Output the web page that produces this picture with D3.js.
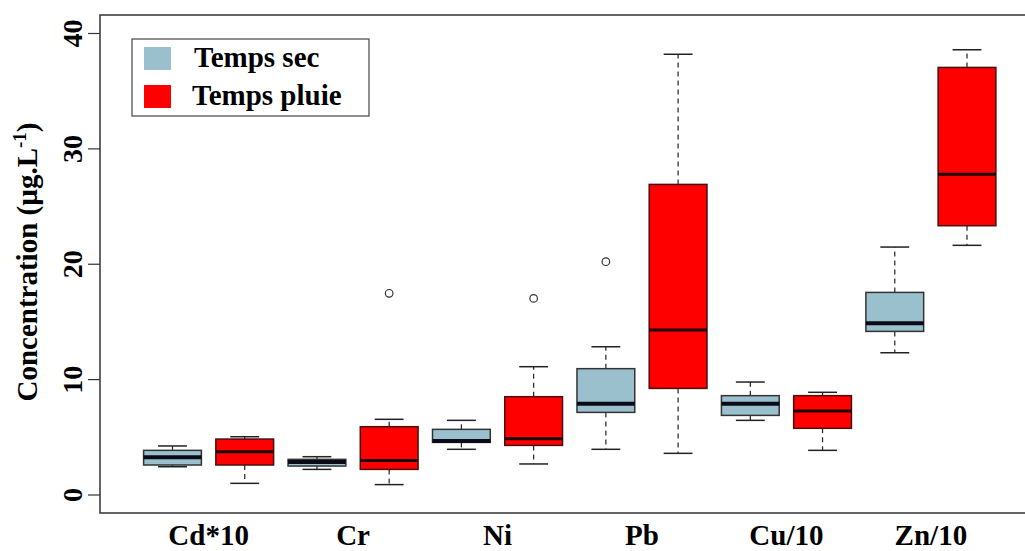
<!DOCTYPE html>
<html>
<head>
<meta charset="utf-8">
<script src="https://cdn.jsdelivr.net/npm/d3@7"></script>
<style>
  body { margin: 0; background: #fff; }
  svg { display: block; font-family: "Times New Roman", "Liberation Serif", serif; font-weight: bold; }
</style>
</head>
<body>
<svg id="chart" width="1025" height="551"></svg>
<script>
let metals = ["Cd*10", "Cr", "Ni", "Pb", "Cu/10", "Zn/10"]
let seriesNames = ["Temps sec", "Temps pluie"]
let seriesColors = ["#9AC0CD", "#FF0000"]

// [lower whisker, q1, median, q3, upper whisker]
let sec = [
	[2.45, 2.6, 3.27, 3.87, 4.25],
	[2.22, 2.51, 2.86, 3.09, 3.32],
	[3.96, 4.56, 4.68, 5.69, 6.47],
	[3.96, 7.16, 7.91, 10.95, 12.85],
	[6.47, 6.9, 7.91, 8.61, 9.79],
	[12.33, 14.18, 14.88, 17.56, 21.49]
]
let pluie = [
	[1.01, 2.6, 3.75, 4.85, 5.05],
	[0.9, 2.22, 3.0, 5.92, 6.56],
	[2.69, 4.3, 4.88, 8.52, 11.12],
	[3.61, 9.24, 14.3, 26.92, 38.2],
	[3.87, 5.78, 7.28, 8.61, 8.9],
	[21.64, 23.34, 27.79, 37.06, 38.59]
]
// outliers: [metal index, series index, value]
let outliers = [[1, 1, 17.48], [2, 1, 17.04], [3, 0, 20.22]]
let yTicks = [0, 10, 20, 30, 40]

let svg = d3.select('#chart')

let x = d3.scaleLinear().domain([1, 12]).range([172.5, 967])
let y = d3.scaleLinear().domain([0, 40]).range([495, 33.5])
let bw = (x(2) - x(1)) * 0.8

let boxes = []
metals.forEach((m, i) => {
	boxes.push({ pos: i * 2 + 1, s: 0, st: sec[i] })
	boxes.push({ pos: i * 2 + 2, s: 1, st: pluie[i] })
})

// frame (right side runs off the picture)
svg.append('path')
	.attr('d', 'M1040,15 H100 V513 H1040')
	.attr('fill', 'none').attr('stroke', '#333').attr('stroke-width', 1.5)

// y axis
let yAxis = svg.append('g')
yAxis.selectAll('line').data(yTicks).enter().append('line')
	.attr('x1', 88).attr('x2', 100)
	.attr('y1', d => y(d)).attr('y2', d => y(d))
	.attr('stroke', '#333').attr('stroke-width', 1.2)
yAxis.selectAll('text').data(yTicks).enter().append('text')
	.attr('transform', d => 'translate(82,' + y(d) + ') rotate(-90)')
	.attr('text-anchor', 'middle')
	.style('font-size', '28px')
	.text(d => d)

let ytitle = svg.append('text')
	.attr('transform', 'translate(37,262) rotate(-90)')
	.attr('text-anchor', 'middle')
	.style('font-size', '29px')
ytitle.append('tspan').text('Concentration (µg.L')
ytitle.append('tspan').attr('dy', -11).style('font-size', '19px').text('-1')
ytitle.append('tspan').attr('dy', 11).text(')')

// x labels
svg.selectAll('text.xlab').data(metals).enter().append('text')
	.attr('class', 'xlab')
	.attr('x', (d, i) => (x(i * 2 + 1) + x(i * 2 + 2)) / 2)
	.attr('y', 545)
	.attr('text-anchor', 'middle')
	.style('font-size', '29px')
	.text(d => d)

// boxes
let g = svg.selectAll('g.box').data(boxes).enter().append('g').attr('class', 'box')

g.append('line') // upper whisker
	.attr('x1', d => x(d.pos)).attr('x2', d => x(d.pos))
	.attr('y1', d => y(d.st[3])).attr('y2', d => y(d.st[4]))
	.attr('stroke', '#222').attr('stroke-width', 1.2).attr('stroke-dasharray', '5,4')
g.append('line') // lower whisker
	.attr('x1', d => x(d.pos)).attr('x2', d => x(d.pos))
	.attr('y1', d => y(d.st[1])).attr('y2', d => y(d.st[0]))
	.attr('stroke', '#222').attr('stroke-width', 1.2).attr('stroke-dasharray', '5,4')
g.selectAll('line.cap').data(d => [d, d].map((e, k) => ({ pos: e.pos, v: k ? e.st[4] : e.st[0], s: e.s })))
	.enter().append('line').attr('class', 'cap')
	.attr('x1', d => x(d.pos) - bw / 4).attr('x2', d => x(d.pos) + bw / 4)
	.attr('y1', d => y(d.v)).attr('y2', d => y(d.v))
	.attr('stroke', '#222').attr('stroke-width', 1.5)

g.append('rect')
	.attr('x', d => x(d.pos) - bw / 2)
	.attr('width', bw)
	.attr('y', d => y(d.st[3]))
	.attr('height', d => y(d.st[1]) - y(d.st[3]))
	.attr('fill', d => seriesColors[d.s])
	.attr('stroke', d => d.s ? '#4a1010' : '#333')
	.attr('stroke-width', 1.5)
g.append('line') // median
	.attr('x1', d => x(d.pos) - bw / 2).attr('x2', d => x(d.pos) + bw / 2)
	.attr('y1', d => y(d.st[2])).attr('y2', d => y(d.st[2]))
	.attr('stroke', d => d.s ? '#1a0505' : '#0b0b18')
	.attr('stroke-width', d => d.s ? 3 : 4)

svg.selectAll('circle.out').data(outliers).enter().append('circle')
	.attr('class', 'out')
	.attr('cx', d => x(d[0] * 2 + d[1] + 1))
	.attr('cy', d => y(d[2]))
	.attr('r', 3.8)
	.attr('fill', '#fff').attr('stroke', '#333').attr('stroke-width', 1.2)

// legend
let leg = svg.append('g')
leg.append('rect')
	.attr('x', 132).attr('y', 39).attr('width', 237).attr('height', 77)
	.attr('fill', '#fff').attr('stroke', '#444').attr('stroke-width', 1.2)
let li = leg.selectAll('g.li').data(seriesNames).enter().append('g').attr('class', 'li')
	.attr('transform', (d, i) => 'translate(0,' + (i * 38) + ')')
li.append('rect')
	.attr('x', 144).attr('y', 47).attr('width', 27).attr('height', 23)
	.attr('fill', (d, i) => seriesColors[i])
li.append('text')
	.attr('x', (d, i) => i ? 192 : 194).attr('y', 67)
	.style('font-size', '29px')
	.text(d => d)
</script>
</body>
</html>
